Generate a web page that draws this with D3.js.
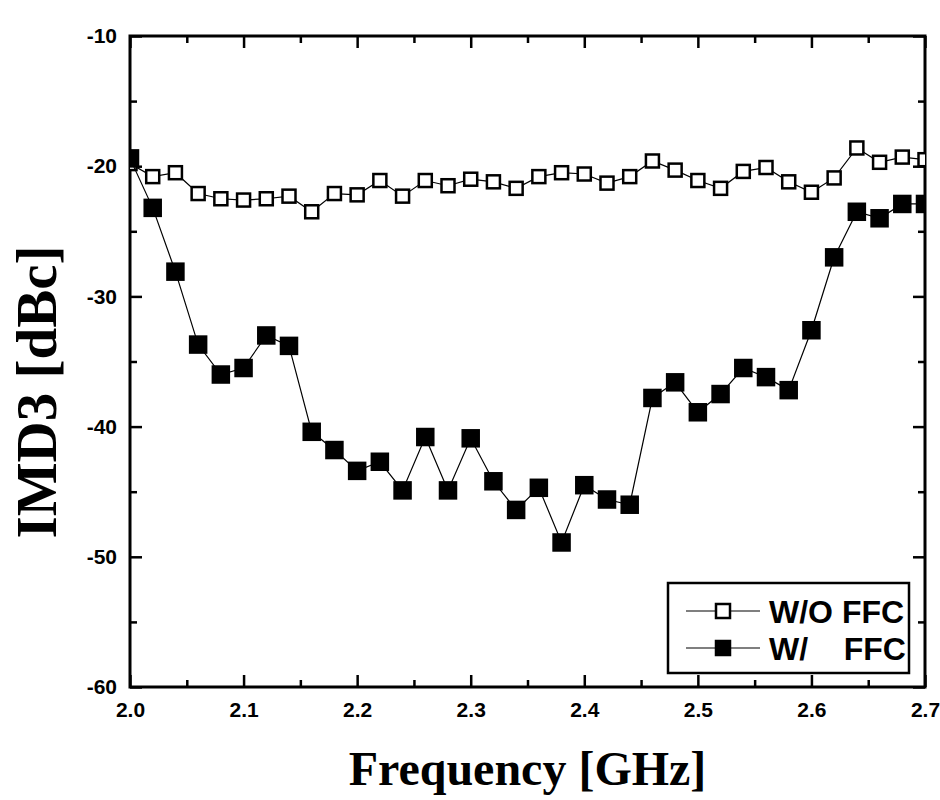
<!DOCTYPE html>
<html>
<head>
<meta charset="utf-8">
<script src="https://cdn.jsdelivr.net/npm/d3@7"></script>
<style>
  body { margin: 0; background: #fff; }
</style>
</head>
<body>
<script>
// Width and height
var w = 940;
var h = 800;
var margin = {left: 130, right: 15, top: 36, bottom: 113};

// frequency points, GHz
var freq = [2.00, 2.02, 2.04, 2.06, 2.08, 2.10, 2.12, 2.14, 2.16, 2.18,
            2.20, 2.22, 2.24, 2.26, 2.28, 2.30, 2.32, 2.34, 2.36, 2.38,
            2.40, 2.42, 2.44, 2.46, 2.48, 2.50, 2.52, 2.54, 2.56, 2.58,
            2.60, 2.62, 2.64, 2.66, 2.68, 2.70];

// IMD3 without feedforward compensation
var withoutFFC = [-19.8, -20.8, -20.5, -22.1, -22.5, -22.6, -22.5, -22.3, -23.5, -22.1,
                  -22.2, -21.1, -22.3, -21.1, -21.5, -21.0, -21.2, -21.7, -20.8, -20.5,
                  -20.6, -21.3, -20.8, -19.6, -20.3, -21.1, -21.7, -20.4, -20.1, -21.2,
                  -22.0, -20.9, -18.6, -19.7, -19.3, -19.5];

// IMD3 with feedforward compensation
var withFFC = [-19.4, -23.2, -28.1, -33.7, -36.0, -35.5, -33.0, -33.8, -40.4, -41.8,
               -43.4, -42.7, -44.9, -40.8, -44.9, -40.9, -44.2, -46.4, -44.7, -48.9,
               -44.5, -45.6, -46.0, -37.8, -36.6, -38.9, -37.5, -35.5, -36.2, -37.2,
               -32.6, -27.0, -23.5, -24.0, -22.9, -22.9];

var xTicks = [2.0, 2.1, 2.2, 2.3, 2.4, 2.5, 2.6, 2.7];
var yTicks = [-60, -50, -40, -30, -20, -10];
var legendLabels = ["W/O FFC", "W/    FFC"];

var xScale = d3.scaleLinear().domain([2.0, 2.7]).range([margin.left, w - margin.right]);
var yScale = d3.scaleLinear().domain([-60, -10]).range([h - margin.bottom, margin.top]);

var svg = d3.select("body").append("svg")
            .attr("width", w)
            .attr("height", h);

svg.append("clipPath").attr("id", "plotclip")
   .append("rect")
   .attr("x", xScale(2.0)).attr("y", yScale(-10))
   .attr("width", xScale(2.7) - xScale(2.0))
   .attr("height", yScale(-60) - yScale(-10));

var minorX = d3.range(2.05, 2.7, 0.1);
var minorY = d3.range(-55, -10, 10);

// axes, ticks pointing inward
function styleAxis(g) {
  g.select(".domain").remove();
  g.attr("font-family", "Liberation Sans, Arial, sans-serif")
   .attr("font-weight", "bold")
   .attr("font-size", 21);
  g.selectAll(".tick line").attr("stroke", "#000").attr("stroke-width", 2.5);
  g.selectAll(".tick text").attr("fill", "#000");
}

svg.append("g")
   .attr("transform", "translate(0," + yScale(-60) + ")")
   .call(d3.axisBottom(xScale).tickValues(xTicks).tickFormat(d3.format(".1f")).tickSize(-12).tickPadding(15))
   .call(styleAxis);
svg.append("g")
   .attr("transform", "translate(0," + yScale(-60) + ")")
   .call(d3.axisBottom(xScale).tickValues(minorX).tickFormat("").tickSize(-7))
   .call(styleAxis);
svg.append("g")
   .attr("transform", "translate(0," + yScale(-10) + ")")
   .call(d3.axisTop(xScale).tickValues(xTicks).tickFormat("").tickSize(-12))
   .call(styleAxis);
svg.append("g")
   .attr("transform", "translate(0," + yScale(-10) + ")")
   .call(d3.axisTop(xScale).tickValues(minorX).tickFormat("").tickSize(-7))
   .call(styleAxis);
svg.append("g")
   .attr("transform", "translate(" + xScale(2.0) + ",0)")
   .call(d3.axisLeft(yScale).tickValues(yTicks).tickFormat(function(d) { return String(d); }).tickSize(-12).tickPadding(13))
   .call(styleAxis);
svg.append("g")
   .attr("transform", "translate(" + xScale(2.0) + ",0)")
   .call(d3.axisLeft(yScale).tickValues(minorY).tickFormat("").tickSize(-7))
   .call(styleAxis);
svg.append("g")
   .attr("transform", "translate(" + xScale(2.7) + ",0)")
   .call(d3.axisRight(yScale).tickValues(yTicks).tickFormat("").tickSize(-12))
   .call(styleAxis);
svg.append("g")
   .attr("transform", "translate(" + xScale(2.7) + ",0)")
   .call(d3.axisRight(yScale).tickValues(minorY).tickFormat("").tickSize(-7))
   .call(styleAxis);

// frame
svg.append("rect")
   .attr("x", xScale(2.0)).attr("y", yScale(-10))
   .attr("width", xScale(2.7) - xScale(2.0))
   .attr("height", yScale(-60) - yScale(-10))
   .attr("fill", "none").attr("stroke", "#000").attr("stroke-width", 3);

var line = d3.line()
             .x(function(d, i) { return xScale(freq[i]); })
             .y(function(d) { return yScale(d); });

var plot = svg.append("g").attr("clip-path", "url(#plotclip)");

var series = [
  {values: withoutFFC, fill: "#fff", size: 13},
  {values: withFFC, fill: "#000", size: 16}
];

series.forEach(function(s) {
  plot.append("path")
      .datum(s.values)
      .attr("fill", "none")
      .attr("stroke", "#000")
      .attr("stroke-width", 1.2)
      .attr("d", line);

  plot.selectAll(null)
      .data(s.values)
      .enter()
      .append("rect")
      .attr("x", function(d, i) { return xScale(freq[i]) - s.size / 2; })
      .attr("y", function(d) { return yScale(d) - s.size / 2; })
      .attr("width", s.size)
      .attr("height", s.size)
      .attr("fill", s.fill)
      .attr("stroke", "#000")
      .attr("stroke-width", 2.5);
});

// legend
var lx = 668, ly = 583, lw = 241, lh = 90;
var legend = svg.append("g");
legend.append("rect")
      .attr("x", lx).attr("y", ly).attr("width", lw).attr("height", lh)
      .attr("fill", "#fff").attr("stroke", "#000").attr("stroke-width", 2.5);

legend.append("clipPath").attr("id", "legclip")
      .append("rect").attr("x", lx).attr("y", ly).attr("width", lw).attr("height", lh);

var legItems = legend.selectAll(".leg")
      .data(series)
      .enter().append("g")
      .attr("transform", function(d, i) { return "translate(" + lx + "," + (ly + 28 + i * 37) + ")"; });

legItems.append("line")
        .attr("x1", 18).attr("x2", 92).attr("y1", 0).attr("y2", 0)
        .attr("stroke", "#000").attr("stroke-width", 1.2);
legItems.append("rect")
        .attr("x", 55 - 7).attr("y", -7).attr("width", 14).attr("height", 14)
        .attr("fill", function(d) { return d.fill; })
        .attr("stroke", "#000").attr("stroke-width", 2.5);

legend.append("g").attr("clip-path", "url(#legclip)")
      .selectAll("text")
      .data(legendLabels)
      .enter().append("text")
      .attr("x", lx + 101)
      .attr("y", function(d, i) { return ly + 28 + i * 37; })
      .attr("dy", "0.36em")
      .style("white-space", "pre")
      .attr("font-family", "Liberation Sans, Arial, sans-serif")
      .attr("font-weight", "bold")
      .attr("font-size", 32)
      .text(function(d) { return d; });

// axis titles
svg.append("text")
   .attr("transform", "translate(56,392) rotate(-90)")
   .attr("text-anchor", "middle")
   .attr("font-family", "Liberation Serif, Times New Roman, serif")
   .attr("font-weight", "bold")
   .attr("font-size", 57)
   .text("IMD3 [dBc]");

svg.append("text")
   .attr("x", (xScale(2.0) + xScale(2.7)) / 2)
   .attr("y", 785)
   .attr("text-anchor", "middle")
   .attr("font-family", "Liberation Serif, Times New Roman, serif")
   .attr("font-weight", "bold")
   .attr("font-size", 48)
   .text("Frequency [GHz]");
</script>
</body>
</html>
